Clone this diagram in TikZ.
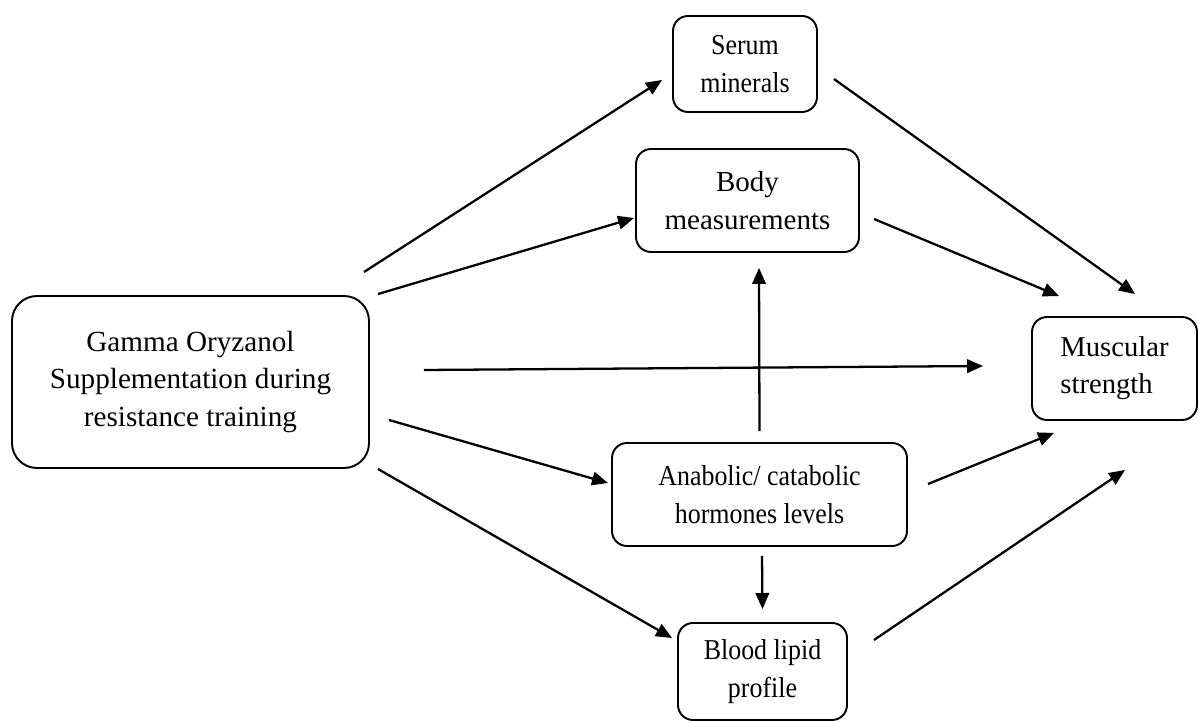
\documentclass[tikz,border=0pt]{standalone}
\usepackage{fontspec}
\setmainfont{Liberation Serif}
\newfontfamily\narrowfont[FakeStretch=0.9]{Liberation Serif}
\usetikzlibrary{arrows.meta}
\begin{document}
\begin{tikzpicture}[
  box/.style={draw, line width=1.1pt, rounded corners=0.3cm, align=center, inner sep=0pt},
  big/.style={font=\fontsize{16.5}{22}\selectfont},
  small/.style={font=\narrowfont\fontsize{16.4}{22}\selectfont},
  arr/.style={line width=1.3pt, -{Triangle[length=3.2mm,width=2.7mm]}}]
\useasboundingbox (0,0) rectangle (23.98,-14.44);
% boxes
\node[box, big, rounded corners=0.5cm, minimum width=7.14cm, minimum height=3.44cm,
  font=\fontsize{16.6}{21.3}\selectfont] (gamma) at (3.81,-7.64)
  {Gamma Oryzanol\\Supplementation during\\resistance training};
\node[box, small, minimum width=2.88cm, minimum height=1.92cm] (serum) at (14.9,-1.28) {Serum\\minerals};
\node[box, big, minimum width=4.46cm, minimum height=2.06cm] (body) at (14.95,-4.01) {Body\\measurements};
\node[box, big, align=left, minimum width=3.3cm, minimum height=2.06cm,
  font=\fontsize{16.3}{21}\selectfont] (muscular) at (22.29,-7.37) {Muscular\\strength};
\node[box, small, minimum width=5.9cm, minimum height=2.06cm] (hormones) at (15.19,-9.89)
  {Anabolic/ catabolic\\hormones levels};
\node[box, small, minimum width=3.38cm, minimum height=1.94cm] (lipid) at (15.25,-13.43) {Blood lipid\\profile};
% arrows from the supplementation
\draw[arr] ([shift={(-0.12,0.46)}]gamma.north east) -- ([shift={(-0.2,-0.32)}]serum.west);
\draw[arr] ([shift={(0.16,0.02)}]gamma.north east) -- ([shift={(-0.02,-0.35)}]body.west);
\draw[arr] ([shift={(1.08,0.24)}]gamma.east) -- ([shift={(-0.96,0.05)}]muscular.west);
\draw[arr] ([shift={(0.38,-0.76)}]gamma.east) -- ([shift={(-0.06,0.23)}]hormones.west);
\draw[arr] ([shift={(0.16,0)}]gamma.south east) -- ([shift={(-0.1,0.67)}]lipid.west);
% arrows from the hormones
\draw[arr] ([shift={(0,0.22)}]hormones.north) -- ([shift={(0.23,-0.3)}]body.south);
\draw[arr] ([shift={(0.05,-0.18)}]hormones.south) -- ([shift={(0,0.26)}]lipid.north);
\draw[arr] ([shift={(0.4,0.21)}]hormones.east) -- ([shift={(0.46,-0.24)}]muscular.south west);
% arrows to the muscular strength
\draw[arr] ([shift={(0.52,0.63)}]lipid.east) -- ([shift={(0.21,-0.98)}]muscular.south);
\draw[arr] ([shift={(0.32,-0.3)}]serum.east) -- ([shift={(0.41,0.44)}]muscular.north);
\draw[arr] ([shift={(0.28,-0.37)}]body.east) -- ([shift={(0.56,0.4)}]muscular.north west);
\end{tikzpicture}
\end{document}
